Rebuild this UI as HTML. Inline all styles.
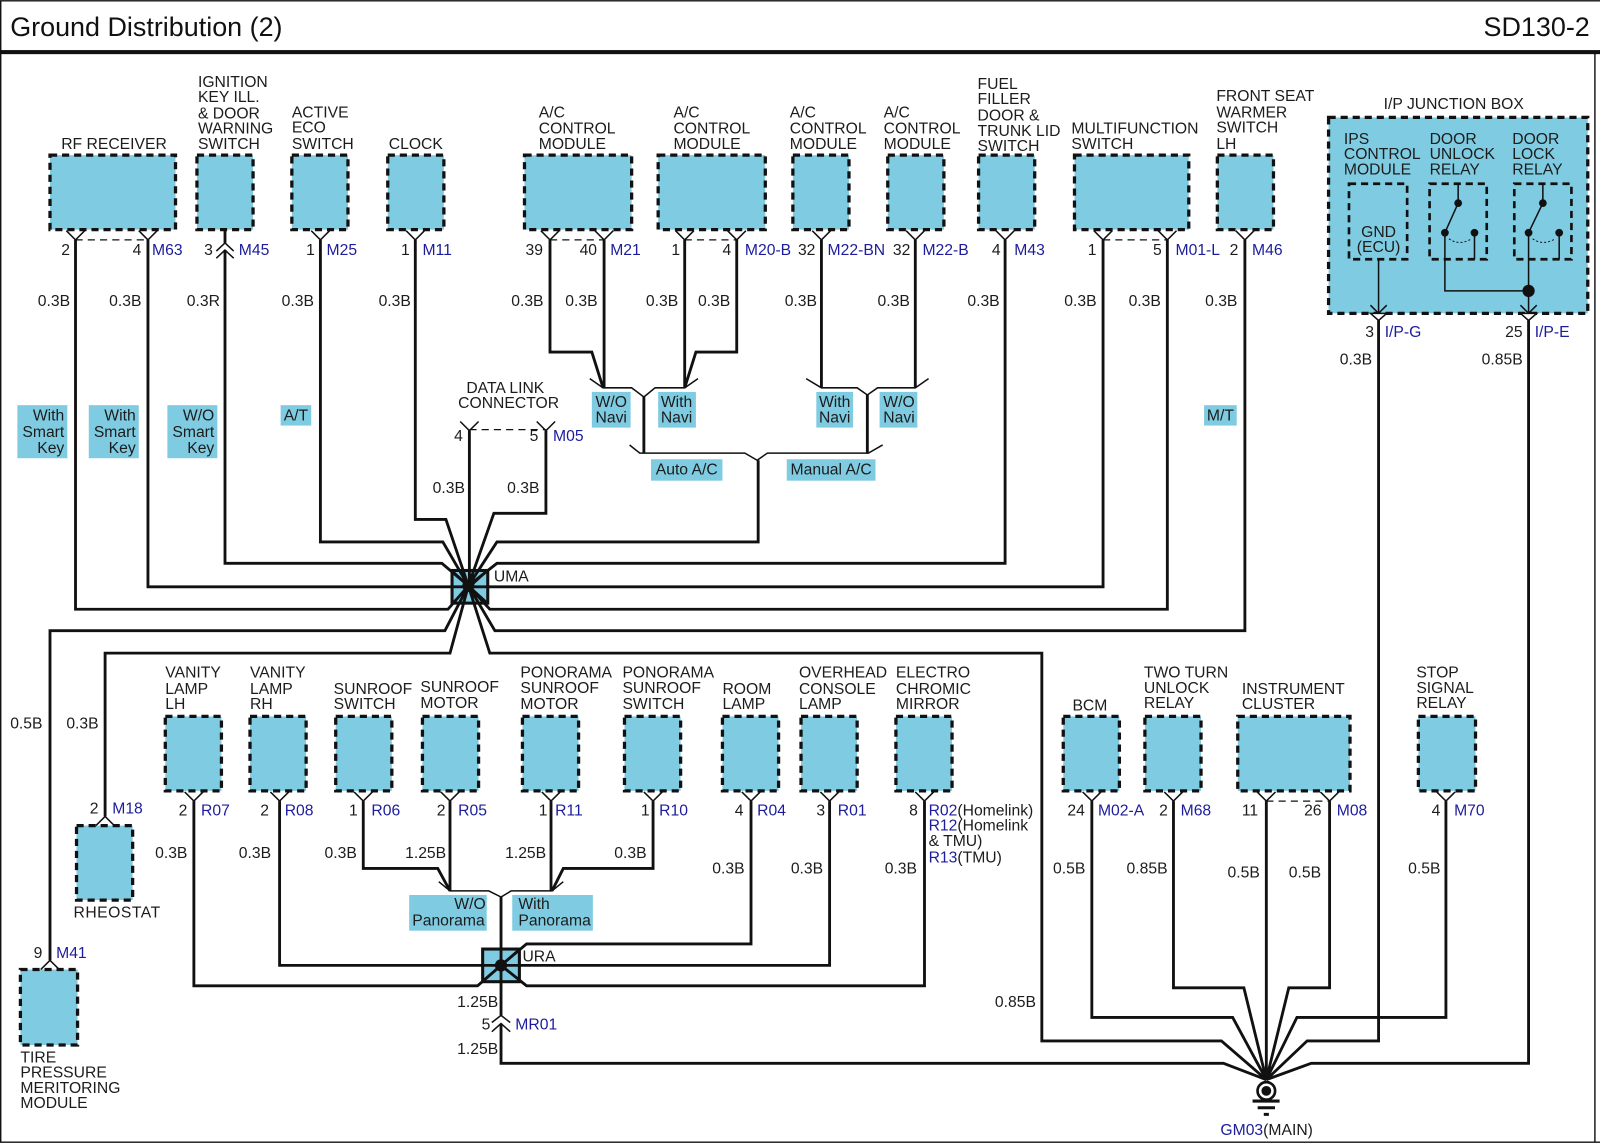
<!DOCTYPE html>
<html>
<head>
<meta charset="utf-8">
<title>Ground Distribution (2)</title>
<style>
html,body{margin:0;padding:0;background:#fff;width:1600px;height:1143px;overflow:hidden}
svg{display:block}
text{font-family:"Liberation Sans",sans-serif;font-size:15.4px;fill:#1c1c1c}
.b{fill:#1c1c9c}
.t{font-size:26.4px;fill:#111}
.m{text-anchor:middle}
.e{text-anchor:end}
.box{fill:#7fcce2;stroke:#111;stroke-width:3.2;stroke-dasharray:7 4.8}
.in{fill:none;stroke:#111;stroke-width:2.6;stroke-dasharray:7 4.8}
.lb{fill:#7fcce2}
.w{fill:none;stroke:#111;stroke-width:2.8;stroke-linejoin:miter}
.n{fill:none;stroke:#111;stroke-width:1.5}
.d{fill:none;stroke:#111;stroke-width:1.2;stroke-dasharray:7 5}
</style>
</head>
<body>
<svg xmlns="http://www.w3.org/2000/svg" width="1600" height="1143" viewBox="0 0 1568 1120">
<rect x="0" y="0" width="1568" height="1120" fill="#fff"/>
<path d="M0.7 0.7H1568M0.7 0V1120M1563 51V1120M0 1119.3H1568" fill="none" stroke="#111" stroke-width="1.4"/>
<rect x="0" y="49" width="1568" height="4" fill="#111"/>
<text class="t" x="10" y="35">Ground Distribution (2)</text>
<text class="t e" x="1558" y="35">SD130-2</text>

<!-- top row boxes -->
<rect class="box" x="49" y="152" width="123" height="73"/>
<rect class="box" x="193" y="152" width="55" height="73"/>
<rect class="box" x="286" y="152" width="55" height="73"/>
<rect class="box" x="380" y="152" width="55" height="73"/>
<rect class="box" x="514" y="152" width="105" height="73"/>
<rect class="box" x="645" y="152" width="105" height="73"/>
<rect class="box" x="777" y="152" width="55" height="73"/>
<rect class="box" x="870" y="152" width="55" height="73"/>
<rect class="box" x="959" y="152" width="55" height="73"/>
<rect class="box" x="1053" y="152" width="112" height="73"/>
<rect class="box" x="1193" y="152" width="55" height="73"/>

<!-- second row boxes -->
<rect class="box" x="162" y="702" width="55" height="73"/>
<rect class="box" x="245" y="702" width="55" height="73"/>
<rect class="box" x="329" y="702" width="55" height="73"/>
<rect class="box" x="414" y="702" width="55" height="73"/>
<rect class="box" x="512" y="702" width="55" height="73"/>
<rect class="box" x="612" y="702" width="55" height="73"/>
<rect class="box" x="708" y="702" width="55" height="73"/>
<rect class="box" x="785" y="702" width="55" height="73"/>
<rect class="box" x="878" y="702" width="55" height="73"/>
<rect class="box" x="1042" y="702" width="55" height="73"/>
<rect class="box" x="1122" y="702" width="55" height="73"/>
<rect class="box" x="1213" y="702" width="110" height="73"/>
<rect class="box" x="1390" y="702" width="56" height="73"/>
<rect class="box" x="75" y="809" width="55" height="73"/>
<rect class="box" x="20" y="950" width="56" height="74"/>

<!-- junction box -->
<rect class="box" x="1302" y="115" width="254" height="192"/>
<rect class="in" x="1322" y="180" width="57" height="74"/>
<rect class="in" x="1401" y="180" width="56" height="74"/>
<rect class="in" x="1484" y="180" width="56" height="74"/>

<!-- option label boxes -->
<rect class="lb" x="17" y="397" width="49" height="52"/>
<rect class="lb" x="87" y="397" width="49" height="52"/>
<rect class="lb" x="164" y="397" width="49" height="52"/>
<rect class="lb" x="275" y="397" width="30" height="20"/>
<rect class="lb" x="1180" y="397" width="32" height="20"/>
<rect class="lb" x="580" y="384" width="38" height="35"/>
<rect class="lb" x="645" y="384" width="37" height="35"/>
<rect class="lb" x="800" y="384" width="36" height="35"/>
<rect class="lb" x="862" y="384" width="37" height="35"/>
<rect class="lb" x="638" y="450" width="70" height="21"/>
<rect class="lb" x="771" y="450" width="87" height="21"/>
<rect class="lb" x="401" y="877" width="76" height="35"/>
<rect class="lb" x="502" y="877" width="79" height="35"/>

<!-- splice boxes -->
<rect x="443" y="559" width="35" height="32" fill="#7fcce2" stroke="#111" stroke-width="3"/>
<rect x="473" y="930" width="36" height="32" fill="#7fcce2" stroke="#111" stroke-width="3"/>
<path class="n" d="M443 559L478 591M478 559L443 591" style="stroke-width:2"/>
<path class="n" d="M473 962L509 930" style="stroke-width:2"/>

<!-- thick wires -->
<path class="w" d="M74 235V597H439L459 574M145 235V575H459M220.5 245V552H433L459 574M314 235V531H434L459 574M407 235V509H437L459 574M460 422V574M535 422V503H484L459 574M743 451V531H487L459 574M985 235V552H487L459 574M1081 235V575H459M1144 235V597H480L459 574M1220 235V618H485L459 574M459 574L480 640H1021V1020H1197L1241 1058M49 941V618H436L459 574M103 800V640H441L459 574"/>
<path class="w" d="M539 235V345H580L591 380M592 235V380M671 235V380M722 235V345H682L671 380M805 235V380M897 235V380M631 389V444M850 387V444"/>
<path class="w" d="M190 785V966H468L491 946M274 785V946H491M356 785V851H429L441 873M441 785V873M540 785V873M640 785V851H552L541 873M736 785V925H516L491 946M813 785V946H491M906 785V966H516L491 946M491 879V995M491 1003V1042H1199L1241 1058"/>
<path class="w" d="M1070 785V997H1208L1241 1058M1150 785V968H1219L1241 1058M1241 785V1058M1303 785V968H1263L1241 1058M1417 785V997H1271L1241 1058M1351 314V1020H1281L1241 1058M1498 314V1042H1285L1241 1058"/>
<path class="w" d="M220.5 226V238"/>
<circle cx="459" cy="574" r="6" fill="#111"/>
<circle cx="491" cy="946" r="6" fill="#111"/>

<!-- top connector Ys -->
<path class="n" d="M65 226L74 235L83 226M136 226L145 235L154 226M305 226L314 235L323 226M398 226L407 235L416 226M530 226L539 235L548 226M583 226L592 235L601 226M662 226L671 235L680 226M713 226L722 235L731 226M796 226L805 235L814 226M888 226L897 235L906 226M976 226L985 235L994 226M1072 226L1081 235L1090 226M1135 226L1144 235L1153 226M1211 226L1220 235L1229 226"/>
<path class="d" d="M74 235H145M539 235H592M671 235H722M1081 235H1144M460 421H535M1241 785H1303"/>
<path class="n" d="M212 246L220.5 238L229 246M212 253L220.5 245L229 253"/>
<path class="n" d="M451 413L460 422L469 413M526 413L535 422L544 413"/>

<!-- row2 Ys -->
<path class="n" d="M181 776L190 785L199 776M265 776L274 785L283 776M347 776L356 785L365 776M432 776L441 785L450 776M531 776L540 785L549 776M631 776L640 785L649 776M727 776L736 785L745 776M804 776L813 785L822 776M897 776L906 785L915 776M1061 776L1070 785L1079 776M1141 776L1150 785L1159 776M1232 776L1241 785L1250 776M1294 776L1303 785L1312 776M1408 776L1417 785L1426 776"/>
<path class="n" d="M94 809L103 800L112 809M40 950L49 941L58 950"/>
<path class="n" d="M482 1002L491 995L500 1002M482 1011L491 1003L500 1011"/>

<!-- branch lines -->
<path class="n" d="M578 371L591 380H619L631 389L642 380H671L684 371"/>
<path class="n" d="M790 371L805 380H840L850 387L860 380H897L910 371"/>
<path class="n" d="M617 436L627 444H730L742 451L752 444H851L865 436"/>
<path class="n" d="M430 864L441 873H479L491 879L501 873H541L552 864"/>

<!-- junction internals -->
<path class="n" d="M1351 254V306M1429 180V199L1416 228M1445 228V254M1416 228V285H1498M1512 180V199L1498 228M1528 228V254M1498 228V306"/>
<path class="n" d="M1343 299L1351 307L1359 299M1490 299L1498 307L1506 299"/>
<path d="M1343 307L1351 314L1359 307Z M1490 307L1498 314L1506 307Z" fill="#fff" stroke="#111" stroke-width="1.5"/>
<path d="M1420 234Q1430 241 1442 234M1502 234Q1512 241 1524 234" fill="none" stroke="#111" stroke-width="1" stroke-dasharray="2 2"/>
<g fill="#111">
<circle cx="1429" cy="199" r="3.8"/><circle cx="1416" cy="228" r="3.8"/><circle cx="1445" cy="228" r="3.8"/>
<circle cx="1512" cy="199" r="3.8"/><circle cx="1498" cy="228" r="3.8"/><circle cx="1528" cy="228" r="3.8"/>
<circle cx="1498" cy="285" r="6"/>
</g>

<!-- ground symbol -->
<circle cx="1241" cy="1069" r="8.6" fill="#fff" stroke="#111" stroke-width="2.6"/>
<circle cx="1241" cy="1069" r="4.8" fill="#111"/>
<path d="M1227.5 1079H1254M1232.5 1085.5H1249.5M1238.5 1092H1243.5" stroke="#111" stroke-width="3" fill="none"/>

<!-- top labels -->
<text x="60" y="146">RF RECEIVER</text>
<text x="194" y="85">IGNITION</text><text x="194" y="100">KEY ILL.</text><text x="194" y="116">&amp; DOOR</text><text x="194" y="131">WARNING</text><text x="194" y="146">SWITCH</text>
<text x="286" y="115">ACTIVE</text><text x="286" y="130">ECO</text><text x="286" y="146">SWITCH</text>
<text x="381" y="146">CLOCK</text>
<text x="528" y="115">A/C</text><text x="528" y="131">CONTROL</text><text x="528" y="146">MODULE</text>
<text x="660" y="115">A/C</text><text x="660" y="131">CONTROL</text><text x="660" y="146">MODULE</text>
<text x="774" y="115">A/C</text><text x="774" y="131">CONTROL</text><text x="774" y="146">MODULE</text>
<text x="866" y="115">A/C</text><text x="866" y="131">CONTROL</text><text x="866" y="146">MODULE</text>
<text x="958" y="87">FUEL</text><text x="958" y="102">FILLER</text><text x="958" y="118">DOOR &amp;</text><text x="958" y="133">TRUNK LID</text><text x="958" y="148">SWITCH</text>
<text x="1050" y="131">MULTIFUNCTION</text><text x="1050" y="146">SWITCH</text>
<text x="1192" y="99">FRONT SEAT</text><text x="1192" y="115">WARMER</text><text x="1192" y="130">SWITCH</text><text x="1192" y="146">LH</text>
<text x="1356" y="107">I/P JUNCTION BOX</text>
<text x="1317" y="141">IPS</text><text x="1317" y="156">CONTROL</text><text x="1317" y="171">MODULE</text>
<text x="1401" y="141">DOOR</text><text x="1401" y="156">UNLOCK</text><text x="1401" y="171">RELAY</text>
<text x="1482" y="141">DOOR</text><text x="1482" y="156">LOCK</text><text x="1482" y="171">RELAY</text>
<text class="m" x="1351" y="232">GND</text><text class="m" x="1351" y="247">(ECU)</text>

<!-- top pins -->
<text x="60" y="250">2</text><text x="130" y="250">4</text><text class="b" x="149" y="250">M63</text>
<text x="200" y="250">3</text><text class="b" x="234" y="250">M45</text>
<text x="300" y="250">1</text><text class="b" x="320" y="250">M25</text>
<text x="393" y="250">1</text><text class="b" x="414" y="250">M11</text>
<text x="515" y="250">39</text><text x="568" y="250">40</text><text class="b" x="598" y="250">M21</text>
<text x="658" y="250">1</text><text x="708" y="250">4</text><text class="b" x="730" y="250">M20-B</text>
<text x="782" y="250">32</text><text class="b" x="811" y="250">M22-BN</text>
<text x="875" y="250">32</text><text class="b" x="904" y="250">M22-B</text>
<text x="972" y="250">4</text><text class="b" x="994" y="250">M43</text>
<text x="1066" y="250">1</text><text x="1130" y="250">5</text><text class="b" x="1152" y="250">M01-L</text>
<text x="1205" y="250">2</text><text class="b" x="1227" y="250">M46</text>
<text x="1338" y="330">3</text><text class="b" x="1357" y="330">I/P-G</text>
<text x="1475" y="330">25</text><text class="b" x="1504" y="330">I/P-E</text>

<!-- top wire sizes -->
<text x="37" y="300">0.3B</text><text x="107" y="300">0.3B</text><text x="183" y="300">0.3R</text><text x="276" y="300">0.3B</text><text x="371" y="300">0.3B</text><text x="501" y="300">0.3B</text><text x="554" y="300">0.3B</text><text x="633" y="300">0.3B</text><text x="684" y="300">0.3B</text><text x="769" y="300">0.3B</text><text x="860" y="300">0.3B</text><text x="948" y="300">0.3B</text><text x="1043" y="300">0.3B</text><text x="1106" y="300">0.3B</text><text x="1181" y="300">0.3B</text>
<text x="1313" y="357">0.3B</text><text x="1452" y="357">0.85B</text>

<!-- option labels -->
<text class="e" x="63" y="412">With</text><text class="e" x="63" y="428">Smart</text><text class="e" x="63" y="444">Key</text>
<text class="e" x="133" y="412">With</text><text class="e" x="133" y="428">Smart</text><text class="e" x="133" y="444">Key</text>
<text class="e" x="210" y="412">W/O</text><text class="e" x="210" y="428">Smart</text><text class="e" x="210" y="444">Key</text>
<text class="m" x="290" y="412">A/T</text>
<text class="m" x="1196" y="412">M/T</text>
<text class="m" x="599" y="399">W/O</text><text class="m" x="599" y="414">Navi</text>
<text class="m" x="663" y="399">With</text><text class="m" x="663" y="414">Navi</text>
<text class="m" x="818" y="399">With</text><text class="m" x="818" y="414">Navi</text>
<text class="m" x="881" y="399">W/O</text><text class="m" x="881" y="414">Navi</text>
<text class="m" x="673" y="465">Auto A/C</text>
<text class="m" x="814.5" y="465">Manual A/C</text>

<text x="457" y="385">DATA LINK</text><text x="449" y="400">CONNECTOR</text>
<text x="445" y="432">4</text><text x="519" y="432">5</text><text class="b" x="542" y="432">M05</text>
<text x="424" y="483">0.3B</text><text x="497" y="483">0.3B</text>
<text x="484" y="570">UMA</text>
<text x="512" y="942">URA</text>

<!-- second row labels -->
<text x="162" y="664">VANITY</text><text x="162" y="680">LAMP</text><text x="162" y="695">LH</text>
<text x="245" y="664">VANITY</text><text x="245" y="680">LAMP</text><text x="245" y="695">RH</text>
<text x="327" y="680">SUNROOF</text><text x="327" y="695">SWITCH</text>
<text x="412" y="678">SUNROOF</text><text x="412" y="694">MOTOR</text>
<text x="510" y="664">PONORAMA</text><text x="510" y="679">SUNROOF</text><text x="510" y="695">MOTOR</text>
<text x="610" y="664">PONORAMA</text><text x="610" y="679">SUNROOF</text><text x="610" y="695">SWITCH</text>
<text x="708" y="680">ROOM</text><text x="708" y="695">LAMP</text>
<text x="783" y="664">OVERHEAD</text><text x="783" y="680">CONSOLE</text><text x="783" y="695">LAMP</text>
<text x="878" y="664">ELECTRO</text><text x="878" y="680">CHROMIC</text><text x="878" y="695">MIRROR</text>
<text x="1051" y="696">BCM</text>
<text x="1121" y="664">TWO TURN</text><text x="1121" y="679">UNLOCK</text><text x="1121" y="694">RELAY</text>
<text x="1217" y="680">INSTRUMENT</text><text x="1217" y="695">CLUSTER</text>
<text x="1388" y="664">STOP</text><text x="1388" y="679">SIGNAL</text><text x="1388" y="694">RELAY</text>
<text x="72" y="899" textLength="85">RHEOSTAT</text>
<text x="20" y="1041">TIRE</text><text x="20" y="1056">PRESSURE</text><text x="20" y="1071">MERITORING</text><text x="20" y="1086">MODULE</text>

<!-- second row pins -->
<text x="175" y="799">2</text><text class="b" x="197" y="799">R07</text>
<text x="255" y="799">2</text><text class="b" x="279" y="799">R08</text>
<text x="342" y="799">1</text><text class="b" x="364" y="799">R06</text>
<text x="428" y="799">2</text><text class="b" x="449" y="799">R05</text>
<text x="528" y="799">1</text><text class="b" x="544" y="799">R11</text>
<text x="628" y="799">1</text><text class="b" x="646" y="799">R10</text>
<text x="720" y="799">4</text><text class="b" x="742" y="799">R04</text>
<text x="800" y="799">3</text><text class="b" x="821" y="799">R01</text>
<text x="891" y="799">8</text>
<text x="910" y="799"><tspan class="b">R02</tspan>(Homelink)</text>
<text x="910" y="814"><tspan class="b">R12</tspan>(Homelink</text>
<text x="910" y="829">&amp; TMU)</text>
<text x="910" y="845"><tspan class="b">R13</tspan>(TMU)</text>
<text x="1046" y="799">24</text><text class="b" x="1076" y="799">M02-A</text>
<text x="1136" y="799">2</text><text class="b" x="1157" y="799">M68</text>
<text x="1217" y="799">11</text><text x="1278" y="799">26</text><text class="b" x="1310" y="799">M08</text>
<text x="1403" y="799">4</text><text class="b" x="1425" y="799">M70</text>
<text x="88" y="797">2</text><text class="b" x="110" y="797">M18</text>
<text x="33" y="939">9</text><text class="b" x="55" y="939">M41</text>

<!-- second row wire sizes -->
<text x="10" y="714">0.5B</text><text x="65" y="714">0.3B</text>
<text x="152" y="841">0.3B</text><text x="234" y="841">0.3B</text><text x="318" y="841">0.3B</text><text x="397" y="841">1.25B</text><text x="495" y="841">1.25B</text><text x="602" y="841">0.3B</text>
<text x="698" y="856">0.3B</text><text x="775" y="856">0.3B</text><text x="867" y="856">0.3B</text>
<text x="1032" y="856">0.5B</text><text x="1104" y="856">0.85B</text><text x="1203" y="860">0.5B</text><text x="1263" y="860">0.5B</text><text x="1380" y="856">0.5B</text>
<text x="975" y="987">0.85B</text>
<text x="448" y="987">1.25B</text>
<text x="472" y="1009">5</text><text class="b" x="505" y="1009">MR01</text>
<text x="448" y="1033">1.25B</text>

<text class="e" x="476" y="891">W/O</text>
<text x="404" y="907">Panorama</text>
<text x="508" y="891">With</text>
<text x="508" y="907">Panorama</text>

<text x="1196" y="1112"><tspan class="b">GM03</tspan>(MAIN)</text>
</svg>
</body>
</html>
